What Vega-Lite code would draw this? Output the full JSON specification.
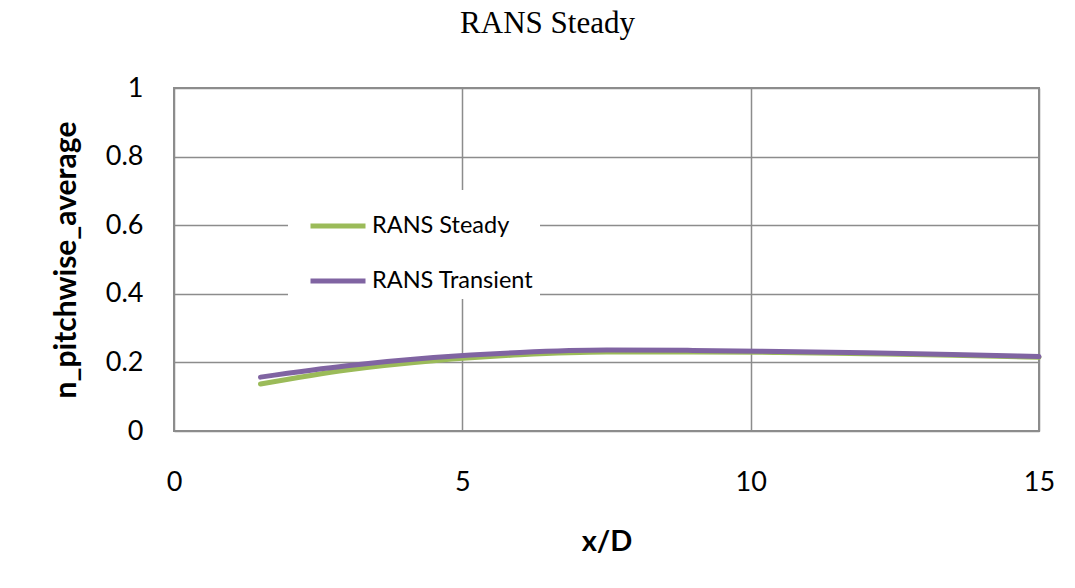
{
  "$schema": "https://vega.github.io/schema/vega-lite/v6.json",
  "autosize": "none",
  "width": 865,
  "height": 343,
  "padding": {"left": 174, "top": 88, "right": 36, "bottom": 157},
  "background": "white",
  "title": {
    "text": "RANS Steady",
    "font": "Liberation Serif",
    "fontSize": 31,
    "fontWeight": "normal",
    "color": "black",
    "anchor": "middle",
    "dx": -59,
    "offset": 34
  },
  "data": {
    "values": [
      {"x": 1.5, "y": 0.137, "series": "RANS Steady"},
      {"x": 3, "y": 0.178, "series": "RANS Steady"},
      {"x": 4.5, "y": 0.205, "series": "RANS Steady"},
      {"x": 6, "y": 0.222, "series": "RANS Steady"},
      {"x": 7.5, "y": 0.230, "series": "RANS Steady"},
      {"x": 9, "y": 0.230, "series": "RANS Steady"},
      {"x": 10.5, "y": 0.229, "series": "RANS Steady"},
      {"x": 12, "y": 0.225, "series": "RANS Steady"},
      {"x": 13.5, "y": 0.221, "series": "RANS Steady"},
      {"x": 15, "y": 0.215, "series": "RANS Steady"},
      {"x": 1.5, "y": 0.157, "series": "RANS Transient"},
      {"x": 3, "y": 0.190, "series": "RANS Transient"},
      {"x": 4.5, "y": 0.214, "series": "RANS Transient"},
      {"x": 6, "y": 0.229, "series": "RANS Transient"},
      {"x": 7.5, "y": 0.236, "series": "RANS Transient"},
      {"x": 9, "y": 0.235, "series": "RANS Transient"},
      {"x": 10.5, "y": 0.232, "series": "RANS Transient"},
      {"x": 12, "y": 0.228, "series": "RANS Transient"},
      {"x": 13.5, "y": 0.223, "series": "RANS Transient"},
      {"x": 15, "y": 0.217, "series": "RANS Transient"}
    ]
  },
  "mark": {"type": "line", "strokeWidth": 5, "strokeCap": "round", "interpolate": "monotone", "clip": false},
  "encoding": {
    "x": {
      "field": "x", "type": "quantitative", "title": "x/D",
      "scale": {"domain": [0, 15], "nice": false},
      "axis": {"values": [0, 5, 10, 15], "labelPadding": 38, "titlePadding": 32, "labelFlush": false}
    },
    "y": {
      "field": "y", "type": "quantitative", "title": "n_pitchwise_average",
      "scale": {"domain": [0, 1], "nice": false},
      "axis": {"values": [0, 0.2, 0.4, 0.6, 0.8, 1], "format": ".1~f", "labelPadding": 31, "titlePadding": 24, "labelFlush": false}
    },
    "color": {
      "field": "series", "type": "nominal",
      "scale": {"domain": ["RANS Steady", "RANS Transient"], "range": ["#9BBB59", "#8064A2"]},
      "legend": {
        "title": null,
        "orient": "none",
        "legendX": 114,
        "legendY": 102,
        "symbolType": "stroke",
        "symbolSize": 3025,
        "symbolStrokeWidth": 5,
        "symbolOffset": 14,
        "labelOffset": 4,
        "rowPadding": 13,
        "padding": 6,
        "fillColor": "white",
        "labelFont": "Lato",
        "labelFontSize": 23.5,
        "labelColor": "black",
        "labelLimit": 400
      }
    }
  },
  "config": {
    "view": {"stroke": "#8c8c8c", "strokeWidth": 2},
    "axis": {
      "domain": false,
      "ticks": false,
      "grid": true,
      "gridColor": "#8c8c8c",
      "gridWidth": 1.5,
      "gridOpacity": 1,
      "labelFont": "Lato",
      "labelFontSize": 27,
      "labelColor": "black",
      "titleFont": "Lato",
      "titleFontWeight": "bold",
      "titleColor": "black"
    },
    "axisX": {"titleFontSize": 29},
    "axisY": {"titleFontSize": 30}
  }
}
